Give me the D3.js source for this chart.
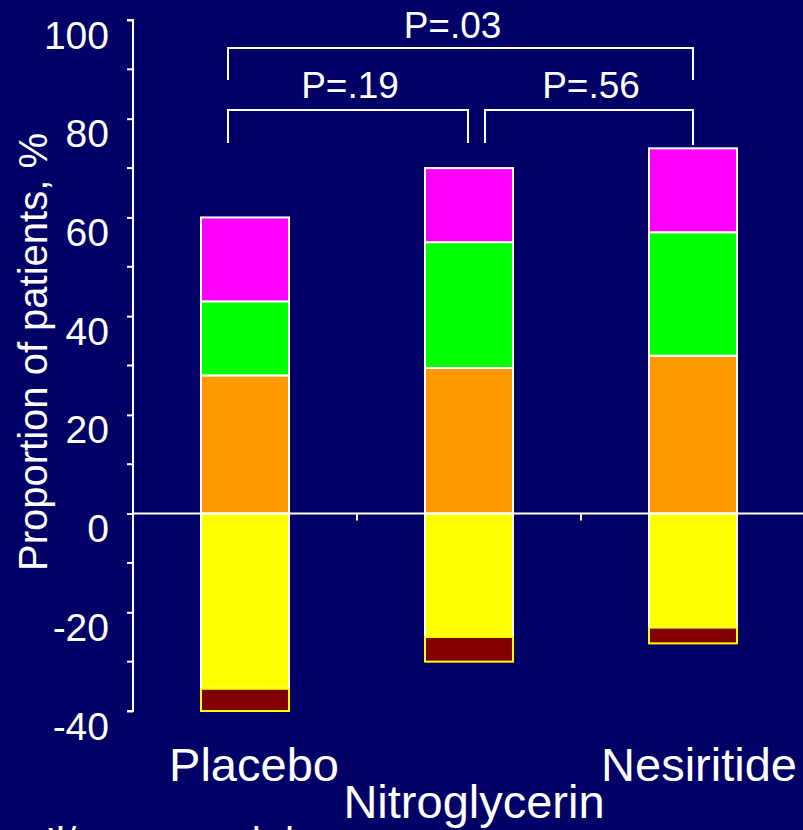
<!DOCTYPE html>
<html>
<head>
<meta charset="utf-8">
<script src="https://cdn.jsdelivr.net/npm/d3@7"></script>
<style>
html,body{margin:0;padding:0;background:#000066;overflow:hidden;}
svg{display:block;}
text{font-family:"Liberation Sans",Arial,sans-serif;fill:#fff;}
</style>
</head>
<body>
<svg id="chart" width="803" height="830"></svg>
<script>
// ---- data ----
const categories = ["Placebo", "Nitroglycerin", "Nesiritide"];
const seriesNames = ["Minimally better", "Moderately better", "Markedly better", "No change", "Worse"];
const minimallyBetter = [28, 29.5, 32];
const moderatelyBetter = [15, 25.5, 25];
const markedlyBetter = [17, 15, 17];
const noChange = [-35.5, -25, -23.1];
const worse = [-4.5, -5, -3.2];
const yTicks = [-40, -20, 0, 20, 40, 60, 80, 100];
const yMinorTicks = [-30, -10, 10, 30, 50, 70, 90];
const comparisons = [
  {from: "Placebo", to: "Nesiritide", label: "P=.03", level: 0},
  {from: "Placebo", to: "Nitroglycerin", label: "P=.19", level: 1},
  {from: "Nitroglycerin", to: "Nesiritide", label: "P=.56", level: 1}
];

const svg = d3.select("#chart");
const W = 803, H = 830;
svg.append("rect").attr("width", W).attr("height", H).attr("fill", "#000066");

const y = d3.scaleLinear().domain([-40, 100]).range([711, 20]);
const x = d3.scaleBand().domain(categories).range([133, 805]).paddingInner(0.607).paddingOuter(0.3035);

// stacked segments
const posSeries = [
  {vals: minimallyBetter, color: "#FF9900", stroke: "#fff"},
  {vals: moderatelyBetter, color: "#00FF00", stroke: "#fff"},
  {vals: markedlyBetter, color: "#FF00FF", stroke: "#fff"}
];
const negSeries = [
  {vals: noChange, color: "#FFFF00", stroke: "#fff"},
  {vals: worse, color: "#800000", stroke: "#FFFF00"}
];
const segs = [];
categories.forEach((c, i) => {
  let base = 0;
  posSeries.forEach(s => { segs.push({c, y0: base, y1: base + s.vals[i], color: s.color, stroke: s.stroke}); base += s.vals[i]; });
  base = 0;
  negSeries.forEach(s => { segs.push({c, y0: base, y1: base + s.vals[i], color: s.color, stroke: s.stroke}); base += s.vals[i]; });
});

// axes
const axisG = svg.append("g").attr("transform", "translate(133,0)");
axisG.call(d3.axisLeft(y).tickValues(yTicks).tickSize(6).tickFormat(d => String(d)));
axisG.selectAll(".domain").attr("stroke", "#fff").attr("stroke-width", 2).attr("d", `M-6,${y(100)}H0V${y(-40)}H-6`);
axisG.selectAll(".tick line").attr("stroke", "#fff").attr("stroke-width", 2);
axisG.selectAll(".tick text")
  .attr("fill", "#fff").attr("x", -24).attr("dy", null).attr("y", 28)
  .style("font-size", "39px").style("font-family", "'Liberation Sans',Arial,sans-serif");
axisG.selectAll(".minor").data(yMinorTicks).enter().append("line")
  .attr("x1", -6).attr("x2", 0).attr("y1", d => y(d)).attr("y2", d => y(d))
  .attr("stroke", "#fff").attr("stroke-width", 2);

// bars
svg.append("g").selectAll("rect").data(segs).enter().append("rect")
  .attr("x", d => x(d.c))
  .attr("width", x.bandwidth())
  .attr("y", d => y(Math.max(d.y0, d.y1)))
  .attr("height", d => Math.abs(y(d.y0) - y(d.y1)))
  .attr("fill", d => d.color)
  .attr("stroke", d => d.stroke)
  .attr("stroke-width", 2);

// zero line and category ticks
svg.append("line").attr("x1", 133).attr("x2", W).attr("y1", y(0)).attr("y2", y(0))
  .attr("stroke", "#fff").attr("stroke-width", 2);
const step = x.step();
svg.append("g").selectAll("line").data(categories.slice(1)).enter().append("line")
  .attr("x1", d => x(d) + x.bandwidth() / 2 - step / 2)
  .attr("x2", d => x(d) + x.bandwidth() / 2 - step / 2)
  .attr("y1", y(0)).attr("y2", y(0) + 7)
  .attr("stroke", "#fff").attr("stroke-width", 2);

// category labels
const cx = c => x(c) + x.bandwidth() / 2;
const labelShift = [9, 5, 6];
svg.append("g").selectAll("text").data(categories).enter().append("text")
  .attr("x", (d, i) => cx(d) + labelShift[i])
  .attr("y", (d, i) => i === 1 ? 818 : 781)
  .attr("text-anchor", "middle")
  .style("font-size", "47px")
  .text(d => d);

// y axis title
svg.append("text")
  .attr("transform", "translate(47,352) rotate(-90)")
  .attr("text-anchor", "middle")
  .style("font-size", "40px")
  .text("Proportion of patients, %");

// brackets
const bracketLevels = [{top: 48, bottom: 80, textY: 38}, {top: 110, bottom: 143, textY: 98}];
comparisons.forEach(cmp => {
  const lv = bracketLevels[cmp.level];
  let x1 = cx(cmp.from), x2 = cx(cmp.to);
  if (cmp.from === "Placebo") x1 -= 17;
  if (cmp.from === "Nitroglycerin") x1 += 16;
  if (cmp.to === "Nitroglycerin") x2 -= 1;
  svg.append("path")
    .attr("d", `M${x1},${lv.bottom}V${lv.top}H${x2}V${lv.bottom + (cmp.level === 1 && cmp.from === "Nitroglycerin" ? 2 : 0)}`)
    .attr("fill", "none").attr("stroke", "#fff").attr("stroke-width", 2);
  svg.append("text")
    .attr("x", (x1 + x2) / 2 + (cmp.level === 1 ? 2 : -8))
    .attr("y", lv.textY)
    .attr("text-anchor", "middle")
    .style("font-size", "37px")
    .text(cmp.label);
});

// cropped footnote at the bottom edge
svg.append("text")
  .attr("x", 45).attr("y", 856)
  .style("font-size", "40px")
  .text("Il/ worsened dyspnea");
</script>
</body>
</html>
